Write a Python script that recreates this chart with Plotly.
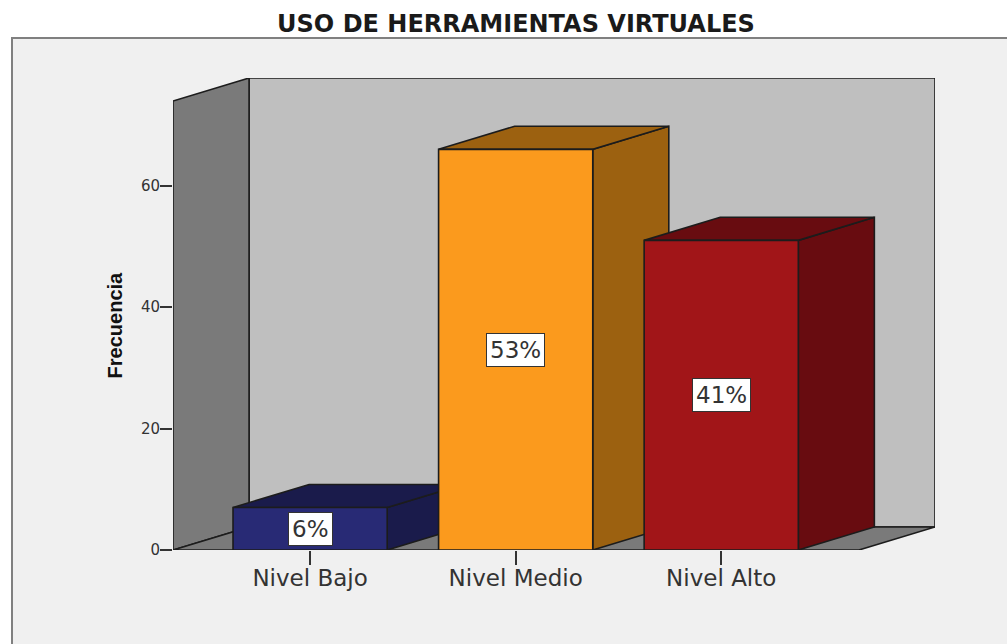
import plotly.graph_objects as go

# Data
categories = ["Nivel Bajo", "Nivel Medio", "Nivel Alto"]
frecuencia = [7, 66, 51]
porcentajes = ["6%", "53%", "41%"]
y_ticks = [0, 20, 40, 60]
front_colors = ["#282a75", "#fb9a1d", "#a11518"]
shade_colors = ["#1a1b4b", "#9c6110", "#680c10"]

# 3D projection offsets, in axis units
DX = 0.37
DY = 3.8
HALF = 0.375
X_MIN, X_MAX = -0.667, 3.04
Y_MAX = 77.75
WALL_TOP = Y_MAX - DY
FLOOR_RIGHT = X_MAX - DX
EDGE = "#1c1c1c"

W, H = 1007, 644
L, R, T, B = 173, 72, 78, 94
PW, PH = W - L - R, H - T - B


def poly(fig, xs, ys, fill, name, width=1.6):
    fig.add_trace(go.Scatter(
        x=xs + xs[:1], y=ys + ys[:1], mode="lines", fill="toself",
        fillcolor=fill, line=dict(color=EDGE, width=width),
        hoverinfo="skip", showlegend=False, name=name, cliponaxis=False,
    ))


fig = go.Figure()

# Walls and floor
poly(fig, [X_MIN + DX, X_MAX, X_MAX, X_MIN + DX], [DY, DY, Y_MAX, Y_MAX], "#bfbfbf", "back wall")
poly(fig, [X_MIN, X_MIN + DX, X_MIN + DX, X_MIN], [0, DY, Y_MAX, WALL_TOP], "#7a7a7a", "side wall")
poly(fig, [X_MIN, FLOOR_RIGHT, X_MAX, X_MIN + DX], [0, 0, DY, DY], "#7a7a7a", "floor")

# Bars
for i, v in enumerate(frecuencia):
    x0, x1 = i - HALF, i + HALF
    poly(fig, [x1, x1 + DX, x1 + DX, x1], [0, DY, v + DY, v], shade_colors[i], categories[i] + " side")
    poly(fig, [x0, x1, x1 + DX, x0 + DX], [v, v, v + DY, v + DY], shade_colors[i], categories[i] + " top")
    poly(fig, [x0, x1, x1, x0], [0, 0, v, v], front_colors[i], categories[i])
    fig.add_annotation(
        x=i, y=v / 2, text=porcentajes[i], showarrow=False,
        font=dict(family="DejaVu Sans", size=23, color="#333333"),
        bgcolor="white", bordercolor="#333333", borderwidth=1, borderpad=3,
    )

# Rotated axis title
fig.add_annotation(
    xref="paper", x=(115 - L) / PW, y=37, xanchor="center", yanchor="middle",
    text="<b>Frecuencia</b>", textangle=-90,
    showarrow=False, font=dict(family="Liberation Sans", size=20, color="#111111"),
)

# Outer frame
fig.add_shape(
    type="rect", xref="paper", yref="paper", layer="below",
    x0=(12 - L) / PW, x1=(W + 20 - L) / PW,
    y0=(-B - 20) / PH, y1=(H - 38 - B) / PH,
    fillcolor="#f0f0f0", line=dict(color="#808080", width=2),
)

fig.update_layout(
    width=W, height=H,
    margin=dict(l=L, r=R, t=T, b=B, autoexpand=False),
    paper_bgcolor="white", plot_bgcolor="rgba(0,0,0,0)",
    showlegend=False,
    title=dict(
        text="<b>USO DE HERRAMIENTAS VIRTUALES</b>",
        xref="container", yref="container", x=516 / W, y=1 - 24 / H,
        xanchor="center", yanchor="middle",
        font=dict(family="DejaVu Sans", size=24, color="#1a1a1a"),
    ),
    xaxis=dict(
        range=[X_MIN, X_MAX], tickmode="array", tickvals=[0, 1, 2], ticktext=categories,
        ticks="outside", ticklen=14, tickwidth=1.5, tickcolor="#333333",
        showgrid=False, zeroline=False, showline=False, ticklabelstandoff=-7,
        tickfont=dict(family="DejaVu Sans", size=23, color="#333333"),
    ),
    yaxis=dict(
        range=[0, Y_MAX], tickmode="array", tickvals=y_ticks,
        ticks="outside", ticklen=12, tickwidth=1.5, tickcolor="#333333",
        showgrid=False, zeroline=False, showline=False, ticklabelstandoff=-3,
        tickfont=dict(family="DejaVu Sans", size=15, color="#333333"),
    ),
)

fig.write_html(
    "out.html",
    config=dict(displayModeBar=False),
    post_script="document.body.style.margin='0';document.body.style.overflow='hidden';",
)
